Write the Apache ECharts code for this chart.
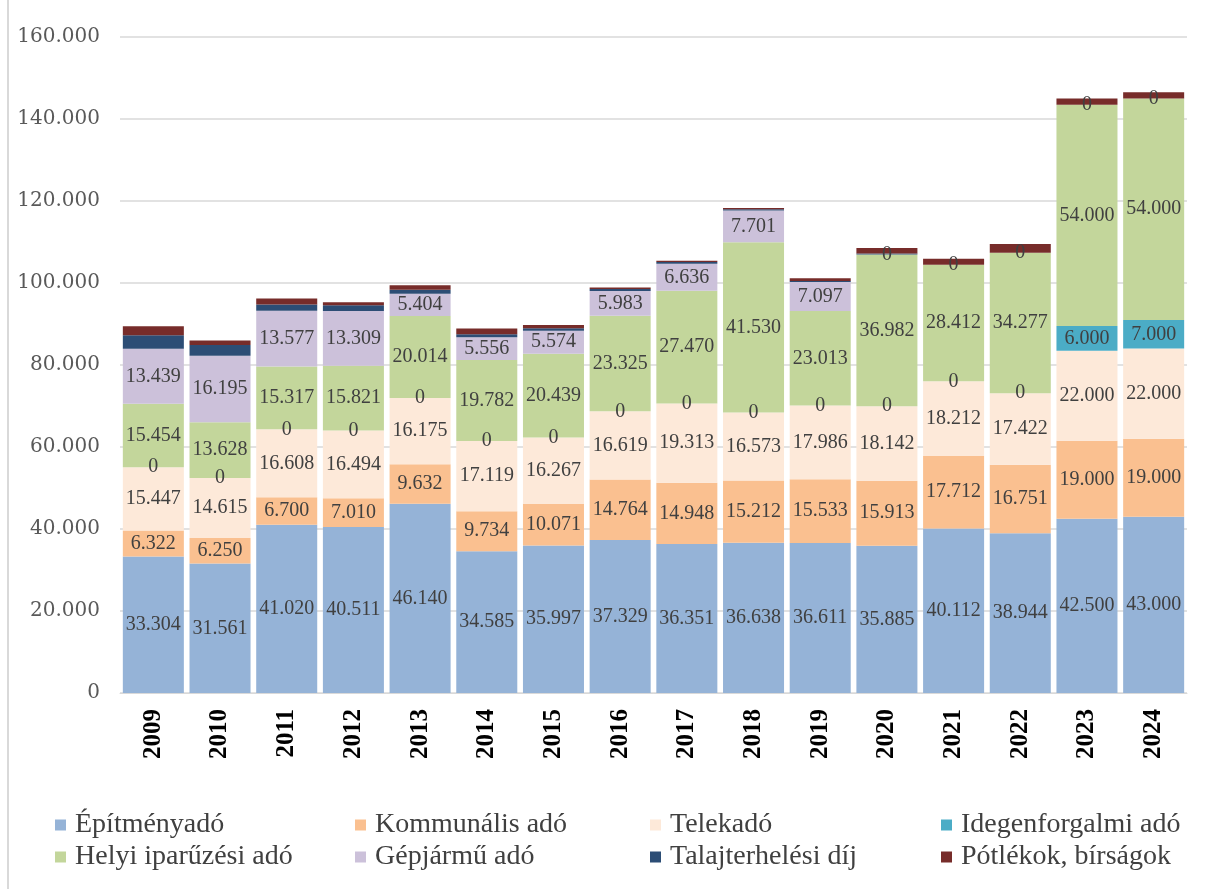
<!DOCTYPE html>
<html>
<head>
<meta charset="utf-8">
<script src="https://cdn.jsdelivr.net/npm/echarts@6/dist/echarts.min.js"></script>
<style>
html,body{margin:0;padding:0;background:#fff;}
#c{width:1214px;height:889px;}
</style>
</head>
<body>
<div id="c"></div>
<script>
var years = ['2009','2010','2011','2012','2013','2014','2015','2016','2017','2018','2019','2020','2021','2022','2023','2024'];
var seriesNames = ['Építményadó','Kommunális adó','Telekadó','Idegenforgalmi adó','Helyi iparűzési adó','Gépjármű adó','Talajterhelési díj','Pótlékok, bírságok'];
var epitmeny = [33304,31561,41020,40511,46140,34585,35997,37329,36351,36638,36611,35885,40112,38944,42500,43000];
var kommunalis = [6322,6250,6700,7010,9632,9734,10071,14764,14948,15212,15533,15913,17712,16751,19000,19000];
var telek = [15447,14615,16608,16494,16175,17119,16267,16619,19313,16573,17986,18142,18212,17422,22000,22000];
var idegen = [0,0,0,0,0,0,0,0,0,0,0,0,0,0,6000,7000];
var helyi = [15454,13628,15317,15821,20014,19782,20439,23325,27470,41530,23013,36982,28412,34277,54000,54000];
var gepjarmu = [13439,16195,13577,13309,5404,5556,5574,5983,6636,7701,7097,0,0,0,0,0];
var talaj = [3300,2600,1550,1400,1000,700,600,500,400,350,250,300,0,0,0,0];
var potlek = [2200,1150,1450,750,1100,1400,800,400,300,300,650,1300,1450,2100,1500,1500];
var yTicks = [0,20000,40000,60000,80000,100000,120000,140000,160000];

var colors = ['#95b3d7','#fac090','#fde9d9','#4bacc6','#c3d69b','#ccc1da','#2c4d75','#772c2a'];
var dataArr = [epitmeny,kommunalis,telek,idegen,helyi,gepjarmu,talaj,potlek];
var showLabel = [true,true,true,true,true,true,false,false];

function fmt(v){
  var s = String(Math.round(v));
  return s.replace(/\B(?=(\d{3})+(?!\d))/g,'.');
}

var series = seriesNames.map(function(n,i){
  return {
    name:n, type:'bar', stack:'total', barCategoryGap:'8.5%',
    itemStyle:{color:colors[i]},
    label:{show:showLabel[i], position:'inside', color:'#404040',
      fontFamily:"'Liberation Serif', serif", fontSize:20,
      formatter:function(p){return fmt(p.value);}},
    emphasis:{disabled:true},
    data:dataArr[i]
  };
});

var legendPos = [[55,811],[355,811],[650,811],[941,811],[55,843],[355,843],[650,843],[941,843]];
var legends = seriesNames.map(function(n,i){
  return {data:[n], left:legendPos[i][0], top:legendPos[i][1], itemWidth:11, itemHeight:11,
    icon:'rect', itemGap:0, padding:0,
    textStyle:{fontFamily:"'Liberation Serif', serif", fontSize:28, color:'#404040', padding:[0,0,0,4]},
    selectedMode:false};
});

var chart = echarts.init(document.getElementById('c'));
chart.setOption({
  animation:false,
  backgroundColor:'#fff',
  grid:{left:120, right:27, top:37, bottom:196, containLabel:false},
  legend:legends,
  xAxis:{type:'category', data:years,
    axisLine:{show:true, lineStyle:{color:'#d9d9d9'}}, axisTick:{show:false},
    axisLabel:{rotate:90, margin:16, color:'#000', fontFamily:"'Liberation Serif', serif", fontWeight:'bold', fontSize:25}},
  yAxis:{type:'value', min:0, max:160000, interval:20000,
    axisLine:{show:false}, axisTick:{show:false},
    splitLine:{lineStyle:{color:'#d9d9d9', width:1.5}},
    axisLabel:{margin:20, color:'#595959', fontFamily:"'DejaVu Serif', serif", fontSize:20,
      formatter:function(v){return fmt(v);}}},
  graphic:[{type:'line', shape:{x1:8,y1:0,x2:8,y2:889}, style:{stroke:'#d9d9d9', lineWidth:2}}],
  series:series
});
</script>
</body>
</html>
